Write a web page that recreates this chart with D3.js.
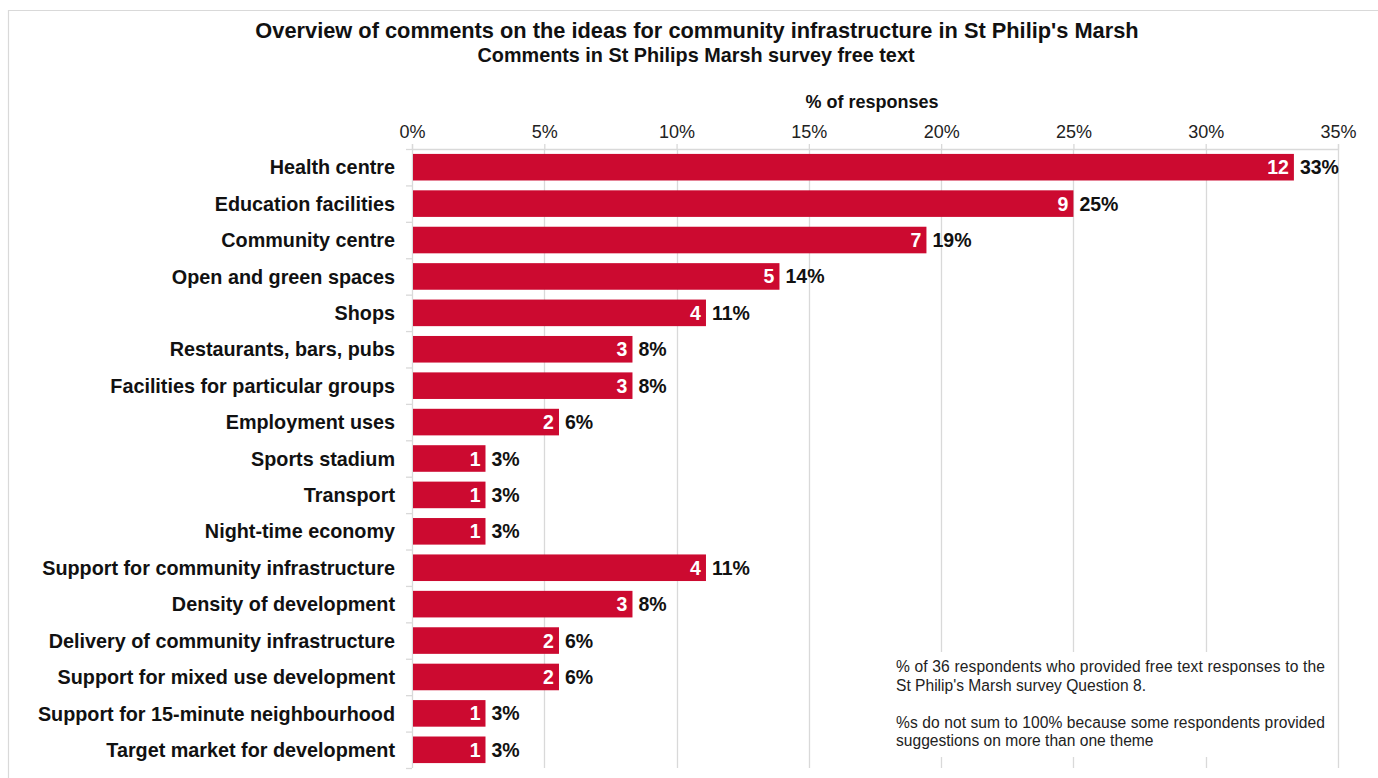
<!DOCTYPE html>
<html>
<head>
<meta charset="utf-8">
<script src="https://cdn.jsdelivr.net/npm/d3@7"></script>
<style>
  html, body { margin: 0; padding: 0; background: #fff; }
  svg { display: block; font-family: "Liberation Sans", Arial, sans-serif; }
</style>
</head>
<body>
<svg id="chart" width="1378" height="778"></svg>
<script>
// Themes raised in the free-text comments and number of respondents mentioning each
const categories = [
  "Health centre",
  "Education facilities",
  "Community centre",
  "Open and green spaces",
  "Shops",
  "Restaurants, bars, pubs",
  "Facilities for particular groups",
  "Employment uses",
  "Sports stadium",
  "Transport",
  "Night-time economy",
  "Support for community infrastructure",
  "Density of development",
  "Delivery of community infrastructure",
  "Support for mixed use development",
  "Support for 15-minute neighbourhood",
  "Target market for development"
];
const counts = [12, 9, 7, 5, 4, 3, 3, 2, 1, 1, 1, 4, 3, 2, 2, 1, 1];
const totalRespondents = 36;
const xTicks = [0, 0.05, 0.10, 0.15, 0.20, 0.25, 0.30, 0.35];

const titleText = "Overview of comments on the ideas for community infrastructure in St Philip's Marsh";
const subtitleText = "Comments in St Philips Marsh survey free text";
const axisTitle = "% of responses";
const noteLines = [
  { text: "% of 36 respondents who provided free text responses to the", justify: true },
  { text: "St Philip's Marsh survey Question 8.", justify: false },
  { text: "", justify: false },
  { text: "%s do not sum to 100% because some respondents provided", justify: true },
  { text: "suggestions on more than one theme", justify: false }
];

const data = categories.map((c, i) => ({ label: c, count: counts[i], share: counts[i] / totalRespondents }));

const svg = d3.select("#chart");
const W = 1378, H = 778;
const margin = { top: 149, right: 40, bottom: 10, left: 412 };
const plotW = 1338 - margin.left;
const plotH = 768 - margin.top;

const RED = "#cc0a30";
const GRID = "#d9d9d9";

// Outer frame (top and left edges visible)
svg.append("line").attr("x1", 8).attr("x2", W).attr("y1", 10.5).attr("y2", 10.5)
  .attr("stroke", GRID).attr("stroke-width", 1.2);
svg.append("line").attr("x1", 8.5).attr("x2", 8.5).attr("y1", 10).attr("y2", H)
  .attr("stroke", GRID).attr("stroke-width", 1.2);

// Titles
svg.append("text").attr("x", 697).attr("y", 38).attr("text-anchor", "middle")
  .attr("font-weight", "bold").attr("font-size", 21.8).attr("fill", "#111").text(titleText);
svg.append("text").attr("x", 696).attr("y", 62).attr("text-anchor", "middle")
  .attr("font-weight", "bold").attr("font-size", 19.8).attr("fill", "#111")
  .attr("textLength", 437).attr("lengthAdjust", "spacingAndGlyphs")
  .text(subtitleText);

const g = svg.append("g").attr("transform", `translate(${margin.left},${margin.top})`);

const x = d3.scaleLinear().domain([0, 0.35]).range([0, plotW]);
const y = d3.scaleBand().domain(categories).range([0, plotH]).paddingInner(0.27).paddingOuter(0.135);

// Vertical gridlines
g.append("g").selectAll("line").data(xTicks.slice(1)).join("line")
  .attr("x1", d => Math.round(x(d)) + 0.5).attr("x2", d => Math.round(x(d)) + 0.5)
  .attr("y1", 0).attr("y2", plotH)
  .attr("stroke", GRID).attr("stroke-width", 1.3);

// Top axis
const xAxis = d3.axisTop(x).tickValues(xTicks).tickFormat(d3.format(".0%")).tickSize(5).tickPadding(6);
const xa = g.append("g").call(xAxis);
xa.select(".domain").attr("stroke", GRID).attr("stroke-width", 1.3);
xa.selectAll(".tick line").attr("stroke", GRID).attr("stroke-width", 1.3);
xa.selectAll(".tick text").attr("font-size", 18).attr("fill", "#222").attr("font-family", "Liberation Sans, Arial, sans-serif");

g.append("text").attr("x", plotW / 2 - 3).attr("y", -41).attr("text-anchor", "middle")
  .attr("font-weight", "bold").attr("font-size", 18).attr("fill", "#111").text(axisTitle);

// Left axis: line plus small ticks between categories
g.append("line").attr("x1", 0.5).attr("x2", 0.5).attr("y1", 0).attr("y2", plotH)
  .attr("stroke", GRID).attr("stroke-width", 1.3);
const step = y.step();
g.append("g").selectAll("line").data(d3.range(categories.length + 1)).join("line")
  .attr("x1", -6).attr("x2", 0)
  .attr("y1", i => y.range()[0] + i * step + 0.5)
  .attr("y2", i => y.range()[0] + i * step + 0.5)
  .attr("stroke", GRID).attr("stroke-width", 1.3);

// Category labels
g.append("g").selectAll("text").data(data).join("text")
  .attr("x", -17).attr("y", d => y(d.label) + y.bandwidth() / 2)
  .attr("dy", "0.36em").attr("text-anchor", "end")
  .attr("font-weight", "bold").attr("font-size", 19.8).attr("fill", "#111")
  .text(d => d.label);

// Bars
g.append("g").selectAll("rect").data(data).join("rect")
  .attr("x", 1).attr("y", d => y(d.label))
  .attr("width", d => x(d.share) - 1).attr("height", y.bandwidth())
  .attr("fill", RED);

// Counts inside the bars
g.append("g").selectAll("text").data(data).join("text")
  .attr("x", d => x(d.share) - 5).attr("y", d => y(d.label) + y.bandwidth() / 2)
  .attr("dy", "0.36em").attr("text-anchor", "end")
  .attr("font-weight", "bold").attr("font-size", 19.5).attr("fill", "#fff")
  .text(d => d.count);

// Percentages after the bars
g.append("g").selectAll("text").data(data).join("text")
  .attr("x", d => x(d.share) + 6).attr("y", d => y(d.label) + y.bandwidth() / 2)
  .attr("dy", "0.36em").attr("text-anchor", "start")
  .attr("font-weight", "bold").attr("font-size", 19.5).attr("fill", "#111")
  .text(d => d3.format(".0%")(d.share));

// Explanatory note on a white panel
const note = svg.append("g");
note.append("rect").attr("x", 884).attr("y", 652).attr("width", 449).attr("height", 105).attr("fill", "#fff");
const noteX = 896, noteRight = 1325, noteY0 = 672, lineH = 18.5;
noteLines.forEach((l, i) => {
  if (!l.text) return;
  const t = note.append("text").attr("x", noteX).attr("y", noteY0 + i * lineH)
    .attr("font-size", 15.6).attr("fill", "#222").text(l.text);
  if (l.justify) t.attr("textLength", noteRight - noteX).attr("lengthAdjust", "spacing");
});
</script>
</body>
</html>
